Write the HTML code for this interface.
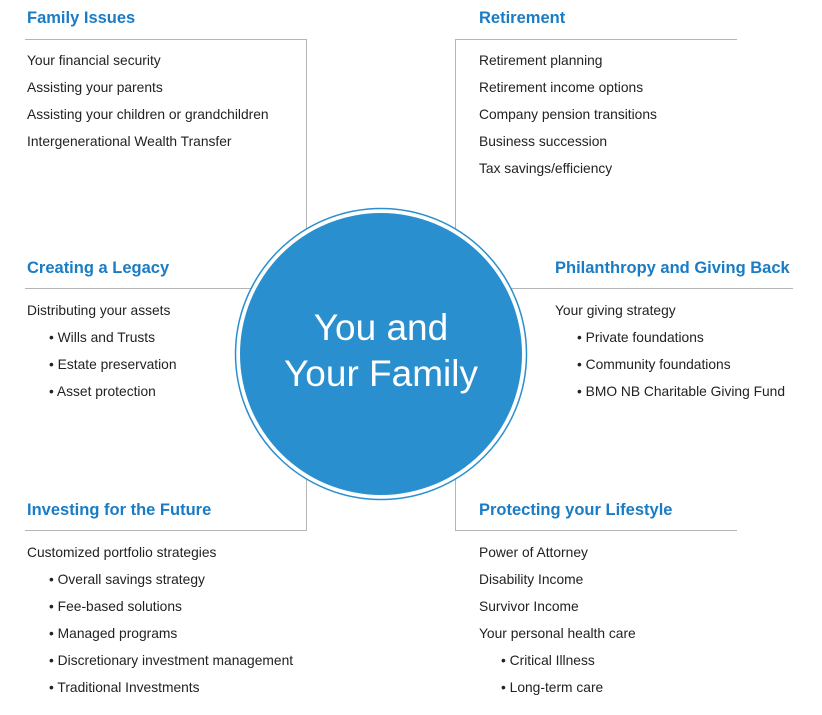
<!DOCTYPE html>
<html><head><meta charset="utf-8"><style>
body{margin:0;width:822px;height:715px;background:#fff;position:relative;overflow:hidden;font-family:"Liberation Sans",sans-serif}
.h{position:absolute;color:#1a7cc4;font-weight:bold;font-size:16.5px;line-height:20px;white-space:nowrap}
.t{position:absolute;color:#222;font-size:13.8px;line-height:27px;white-space:nowrap}
.b{padding-left:22px}
.l{position:absolute;background:#b5b5b5}
</style></head><body>
<div class="l" style="left:25px;top:39px;width:282px;height:1px"></div>
<div class="l" style="left:306px;top:39px;width:1px;height:200px"></div>
<div class="l" style="left:455px;top:39px;width:282px;height:1px"></div>
<div class="l" style="left:455px;top:39px;width:1px;height:200px"></div>
<div class="l" style="left:25px;top:288px;width:230px;height:1px"></div>
<div class="l" style="left:510px;top:288px;width:283px;height:1px"></div>
<div class="l" style="left:25px;top:530px;width:282px;height:1px"></div>
<div class="l" style="left:306px;top:470px;width:1px;height:61px"></div>
<div class="l" style="left:455px;top:530px;width:282px;height:1px"></div>
<div class="l" style="left:455px;top:470px;width:1px;height:61px"></div>

<svg style="position:absolute;left:0;top:0" width="822" height="715">
<circle cx="381" cy="354" r="145.5" fill="#fff" stroke="#2a8fce" stroke-width="1.5"/>
<circle cx="381" cy="354" r="141" fill="#2a8fce"/>
<text x="381" y="340" text-anchor="middle" fill="#fff" font-family="Liberation Sans, sans-serif" font-size="37">You and</text>
<text x="381" y="386" text-anchor="middle" fill="#fff" font-family="Liberation Sans, sans-serif" font-size="37">Your Family</text>
</svg>

<div class="h" style="left:27px;top:8px">Family Issues</div>
<div class="t" style="left:27px;top:47px">Your financial security<br>Assisting your parents<br>Assisting your children or grandchildren<br>Intergenerational Wealth Transfer</div>

<div class="h" style="left:479px;top:8px">Retirement</div>
<div class="t" style="left:479px;top:47px">Retirement planning<br>Retirement income options<br>Company pension transitions<br>Business succession<br>Tax savings/efficiency</div>

<div class="h" style="left:27px;top:258px">Creating a Legacy</div>
<div class="t" style="left:27px;top:297px">Distributing your assets<div class="b">• Wills and Trusts<br>• Estate preservation<br>• Asset protection</div></div>

<div class="h" style="left:555px;top:258px">Philanthropy and Giving Back</div>
<div class="t" style="left:555px;top:297px">Your giving strategy<div class="b">• Private foundations<br>• Community foundations<br>• BMO NB Charitable Giving Fund</div></div>

<div class="h" style="left:27px;top:500px">Investing for the Future</div>
<div class="t" style="left:27px;top:539px">Customized portfolio strategies<div class="b">• Overall savings strategy<br>• Fee-based solutions<br>• Managed programs<br>• Discretionary investment management<br>• Traditional Investments</div></div>

<div class="h" style="left:479px;top:500px">Protecting your Lifestyle</div>
<div class="t" style="left:479px;top:539px">Power of Attorney<br>Disability Income<br>Survivor Income<br>Your personal health care<div class="b">• Critical Illness<br>• Long-term care</div></div>
</body></html>
